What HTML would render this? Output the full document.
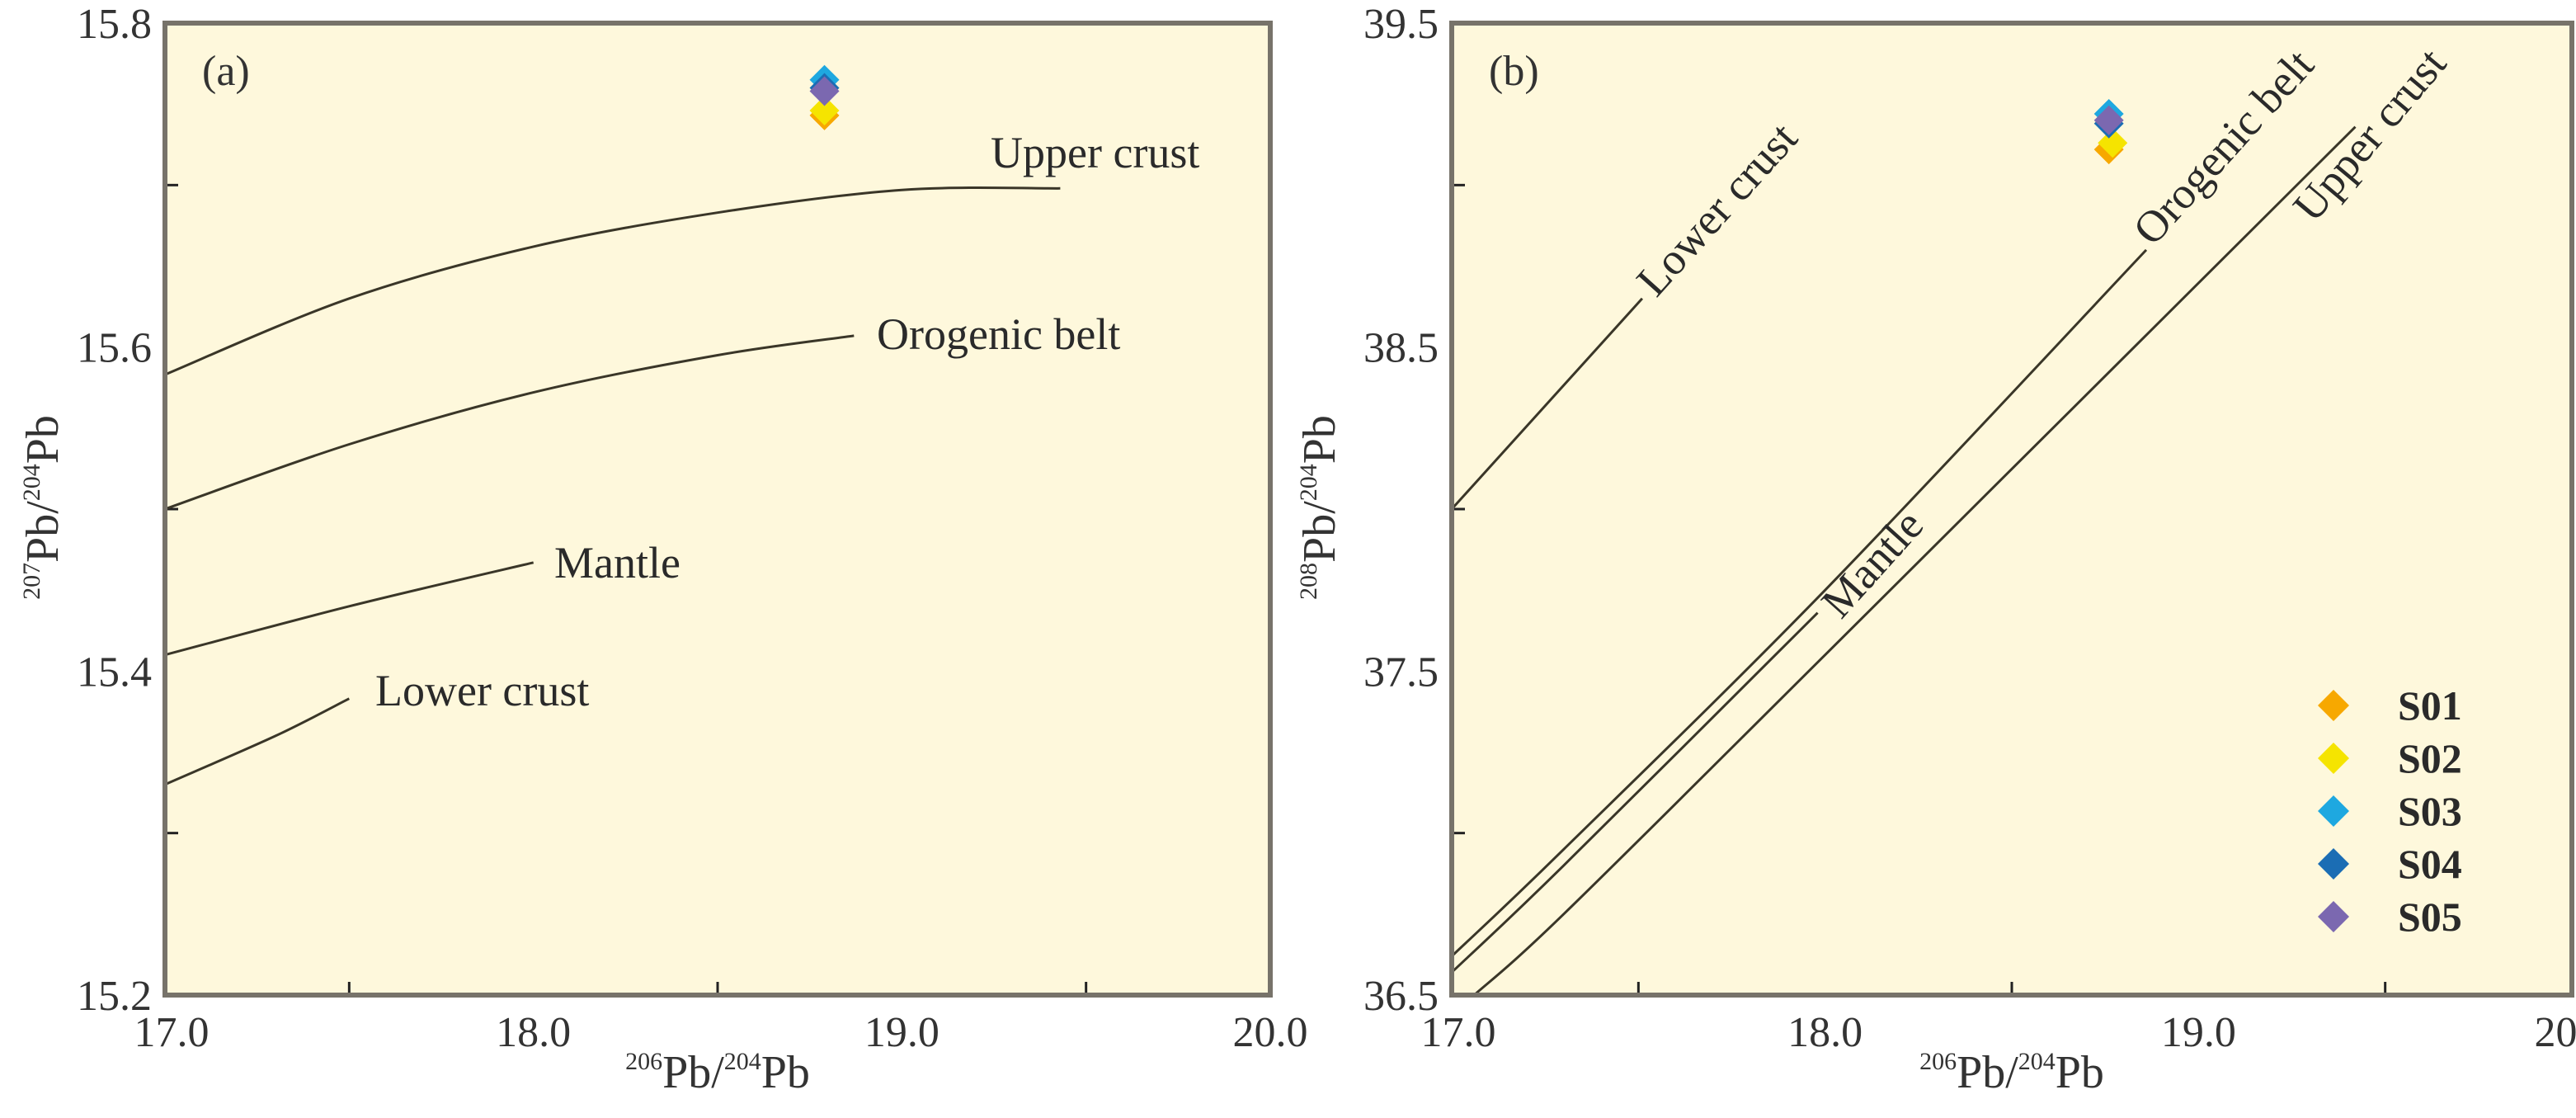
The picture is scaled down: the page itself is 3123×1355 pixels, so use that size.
<!DOCTYPE html>
<html><head><meta charset="utf-8"><style>
html,body{margin:0;padding:0;background:#fff;}
svg, svg text{font-family:"Liberation Serif","DejaVu Serif",serif;}
</style></head><body>
<svg id="chart" width="3123" height="1350" viewBox="0 0 3123 1350" font-family="Liberation Serif, serif"></svg>
<script>
// Panel (a) data
const aCurveNames = ["Upper crust","Orogenic belt","Mantle","Lower crust"];
const aUpperX = [17.0,17.5,18.0,18.5,19.0,19.43];
const aUpperY = [15.583,15.630,15.662,15.683,15.697,15.698];
const aOrogX = [17.0,17.5,18.0,18.5,18.87];
const aOrogY = [15.500,15.540,15.572,15.595,15.607];
const aMantleX = [17.0,17.5,18.0];
const aMantleY = [15.410,15.440,15.467];
const aLowerX = [17.0,17.3,17.5];
const aLowerY = [15.330,15.360,15.383];
// Panel (b) data
const bLowerX = [17.0,17.51];
const bLowerY = [38.0,38.65];
const bOrogX = [17.0,17.3,18.0,18.86];
const bOrogY = [36.62,36.95,37.75,38.80];
const bMantleX = [17.0,17.3,17.98];
const bMantleY = [36.57,36.90,37.68];
const bUpperX = [17.06,17.3,18.0,19.42];
const bUpperY = [36.50,36.75,37.55,39.18];
// Samples
const samples = ["S01","S02","S03","S04","S05"];
const sampleColors = ["#f7a800","#f5e400","#1ea8e0","#1b6db4","#7b68b0"];
const aSampleX = [18.79,18.79,18.79,18.79,18.79];
const aSampleY = [15.743,15.746,15.765,15.760,15.758];
const bSampleX = [18.76,18.77,18.76,18.76,18.76];
const bSampleY = [39.11,39.13,39.22,39.19,39.20];
// ticks
const xTicks = [17.0,18.0,19.0,20.0];
const xMinor = [17.5,18.5,19.5];
const aYTicks = [15.2,15.4,15.6,15.8];
const aYMinor = [15.3,15.5,15.7];
const bYTicks = [36.5,37.5,38.5,39.5];
const bYMinor = [37.0,38.0,39.0];

const NS="http://www.w3.org/2000/svg";
const svg=document.getElementById('chart');
function mk(tag,attrs,parent){const e=document.createElementNS(NS,tag);for(const k in attrs)e.setAttribute(k,attrs[k]);if(tag==='text')e.setAttribute('font-family','Liberation Serif, serif');(parent||svg).appendChild(e);return e;}
function smooth(pts){
  if(pts.length<3)return 'M'+pts.map(p=>p[0].toFixed(1)+','+p[1].toFixed(1)).join(' L');
  let d='M'+pts[0][0].toFixed(1)+','+pts[0][1].toFixed(1);
  for(let i=0;i<pts.length-1;i++){
    const p0=pts[Math.max(0,i-1)],p1=pts[i],p2=pts[i+1],p3=pts[Math.min(pts.length-1,i+2)];
    const c1=[p1[0]+(p2[0]-p0[0])/6,p1[1]+(p2[1]-p0[1])/6];
    const c2=[p2[0]-(p3[0]-p1[0])/6,p2[1]-(p3[1]-p1[1])/6];
    d+=` C${c1[0].toFixed(1)},${c1[1].toFixed(1)} ${c2[0].toFixed(1)},${c2[1].toFixed(1)} ${p2[0].toFixed(1)},${p2[1].toFixed(1)}`;
  }
  return d;
}

function panel(cfg){
  const g=mk('g',{});
  
  
  const L=cfg.left,R=cfg.right,T=28,B=1206;
  const sx=v=>L+(v-17)/(20-17)*(R-L);
  const sy=v=>B-(v-cfg.ymin)/(cfg.ymax-cfg.ymin)*(B-T);
  const bg=mk('rect',{x:L,y:T,width:R-L,height:B-T,fill:'#fef8dc'},g);
  
  
  xMinor.forEach(v=>{const t=mk('line',{x1:sx(v),x2:sx(v),y1:B,y2:B-16,stroke:'#222','stroke-width':3},g);
    });
  cfg.yMinor.forEach(v=>{const t=mk('line',{x1:L,x2:L+16,y1:sy(v),y2:sy(v),stroke:'#222','stroke-width':3},g);
    });
  xTicks.forEach(v=>{const t=mk('text',{x:sx(v)+(v===17?8:0),y:1268,'font-size':52,fill:'#333','text-anchor':'middle'},g);t.textContent=v.toFixed(1);
    });
  cfg.yTicks.forEach(v=>{const t=mk('text',{x:L-16,y:sy(v)+18,'font-size':52,fill:'#333','text-anchor':'end'},g);t.textContent=v.toFixed(1);
    });
  cfg.curves.forEach(c=>{
    const d=smooth(c.x.map((v,i)=>[sx(v),sy(c.y[i])]));
    const p=mk('path',{d:d,fill:'none',stroke:'#3a3628','stroke-width':3},g);
    
  });
  cfg.labels.forEach(l=>{const t=mk('text',{x:l.x,y:l.y,'font-size':54,fill:'#2a2a2a',transform:l.rot?`rotate(${l.rot} ${l.x} ${l.y})`:''},g);t.textContent=l.t;
    });
  [0,1,2,3,4].forEach(i=>{const cx=sx(cfg.px[i]),cy=sy(cfg.py[i]);
    const p=mk('polygon',{points:`${cx},${cy-18} ${cx+18},${cy} ${cx},${cy+18} ${cx-18},${cy}`,fill:sampleColors[i]},g);
    });
  const fr=mk('rect',{x:L,y:T,width:R-L,height:B-T,fill:'none',stroke:'#77736a','stroke-width':6},g);
  
  const pl=mk('text',{x:L+45,y:T+75,'font-size':52,fill:'#333'},g);pl.textContent=cfg.tag;
  
  const xt=mk('text',{x:(L+R)/2,y:1318,'font-size':56,fill:'#333','text-anchor':'middle'},g);
  xt.innerHTML='<tspan font-size="30" dy="-22">206</tspan><tspan dy="22">Pb/</tspan><tspan font-size="30" dy="-22">204</tspan><tspan dy="22">Pb</tspan>';
  
  const yx=cfg.ytx, yy=615;
  const yt=mk('text',{x:yx,y:yy,'font-size':56,fill:'#333','text-anchor':'middle',transform:`rotate(-90 ${yx} ${yy})`},g);
  yt.innerHTML=`<tspan font-size="30" dy="-22">${cfg.iso}</tspan><tspan dy="22">Pb/</tspan><tspan font-size="30" dy="-22">204</tspan><tspan dy="22">Pb</tspan>`;
  
}

panel({name:'panel-a',tag:'(a)',left:200,right:1540,ymin:15.2,ymax:15.8,yTicks:aYTicks,yMinor:aYMinor,iso:'207',ytx:70,
  curves:[{name:'upper-crust-curve',x:aUpperX,y:aUpperY},{name:'orogenic-belt-curve',x:aOrogX,y:aOrogY},{name:'mantle-curve',x:aMantleX,y:aMantleY},{name:'lower-crust-curve',x:aLowerX,y:aLowerY}],
  labels:[{t:'Upper crust',x:1201,y:203,n:'upper-crust-label'},{t:'Orogenic belt',x:1063,y:423,n:'orogenic-belt-label'},{t:'Mantle',x:672,y:700,n:'mantle-label'},{t:'Lower crust',x:455,y:855,n:'lower-crust-label'}],
  px:aSampleX,py:aSampleY});

panel({name:'panel-b',tag:'(b)',left:1760,right:3118,ymin:36.5,ymax:39.5,yTicks:bYTicks,yMinor:bYMinor,iso:'208',ytx:1618,
  curves:[{name:'lower-crust-line',x:bLowerX,y:bLowerY},{name:'orogenic-belt-line',x:bOrogX,y:bOrogY},{name:'mantle-line',x:bMantleX,y:bMantleY},{name:'upper-crust-line',x:bUpperX,y:bUpperY}],
  labels:[{t:'Lower crust',x:2008,y:362,rot:-48,n:'lower-crust-label'},{t:'Orogenic belt',x:2610,y:300,rot:-48,n:'orogenic-belt-label'},{t:'Mantle',x:2232,y:752,rot:-48,n:'mantle-label'},{t:'Upper crust',x:2805,y:272,rot:-50,n:'upper-crust-label'}],
  px:bSampleX,py:bSampleY});

const leg=mk('g',{});


samples.forEach((s,i)=>{
  const cy=855+i*64, cx=2829;
  const m=mk('polygon',{points:`${cx},${cy-19} ${cx+19},${cy} ${cx},${cy+19} ${cx-19},${cy}`,fill:sampleColors[i]},leg);
  
  const t=mk('text',{x:2907,y:cy+17,'font-size':50,'font-weight':'bold',fill:'#2a2a2a'},leg);t.textContent=s;
  
});
</script>
</body></html>
